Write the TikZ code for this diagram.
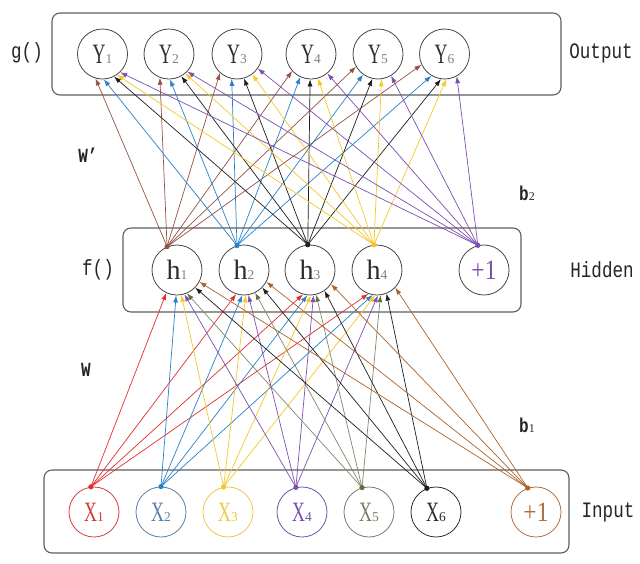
\documentclass[tikz,border=0pt]{standalone}
\usepackage{fontspec}
\setmainfont{Liberation Serif}
\newfontfamily\labfont[FakeStretch=0.8]{Liberation Mono}
\newfontfamily\nfxy[FakeStretch=0.64]{Liberation Serif}
\newfontfamily\nfh{Liberation Serif}
\newfontfamily\nfp[FakeStretch=0.84]{Liberation Serif}
\usetikzlibrary{arrows.meta}
\definecolor{cred}{RGB}{228,45,45}
\definecolor{cblue}{RGB}{40,130,200}
\definecolor{cyel}{RGB}{245,200,40}
\definecolor{cpur}{RGB}{125,80,175}
\definecolor{coli}{RGB}{95,110,65}
\definecolor{colil}{RGB}{130,135,110}
\definecolor{cblk}{RGB}{30,30,30}
\definecolor{cbro}{RGB}{170,100,45}
\definecolor{cbrh}{RGB}{150,80,68}
\definecolor{tred}{RGB}{215,60,60}
\definecolor{tblue}{RGB}{85,130,170}
\definecolor{tyel}{RGB}{240,200,70}
\definecolor{tpur}{RGB}{120,80,170}
\definecolor{toli}{RGB}{120,125,100}
\definecolor{tblk}{RGB}{45,45,45}
\definecolor{tbro}{RGB}{175,110,60}
\definecolor{ring}{RGB}{70,70,70}
\definecolor{boxc}{RGB}{95,95,95}
\begin{document}
\begin{tikzpicture}[x=1pt,y=-1pt,
  boxst/.style={draw=boxc,line width=1.1pt,rounded corners=8pt},
  neuron/.style={circle,draw=#1,line width=0.8pt,minimum size=50pt,inner sep=0pt},
  lab/.style={font=\labfont\fontsize{22}{22}\selectfont,text=black!85,inner sep=0pt},
  blab/.style={lab,font=\labfont\bfseries\fontsize{20}{20}\selectfont},
  wire/.style={line width=0.7pt}]
\useasboundingbox (0,0) rectangle (640,563);
\fill[white] (0,0) rectangle (640,563);
% boxes
\draw[boxst] (52,13) rectangle (561,95);
\draw[boxst] (123,228) rectangle (521,312);
\draw[boxst] (44,470) rectangle (569,553);
% helper for node labels
\newcommand\nlab[4]{{\color{#4}#1\fontsize{28}{28}\selectfont #2{\nfh\fontsize{13.5}{13.5}\selectfont #3}}}
% output nodes
\foreach \n/\x in {1/102.5,2/169,3/237,4/311,5/378,6/444.5}
  \node[neuron=ring] (y\n) at (\x,54) {\nlab{\nfxy}{Y}{\textcolor{gray}{\n}}{tblk}};
% hidden nodes
\foreach \n/\x in {1/177,2/244,3/310,4/377}
  \node[neuron=ring] (h\n) at (\x,270) {\nlab{\nfh}{h}{\textcolor{gray}{\n}}{tblk}};
\node[neuron=ring] (hb) at (484,270) {\nlab{\nfp}{+1}{}{tpur}};
% input nodes
\node[neuron=tred]  (x1) at (94,512)  {\nlab{\nfxy}{X}{1}{tred}};
\node[neuron=tblue] (x2) at (161,512) {\nlab{\nfxy}{X}{2}{tblue}};
\node[neuron=tyel]  (x3) at (228,512) {\nlab{\nfxy}{X}{3}{tyel}};
\node[neuron=tpur]  (x4) at (302,512) {\nlab{\nfxy}{X}{4}{tpur}};
\node[neuron=toli]  (x5) at (369,512) {\nlab{\nfxy}{X}{5}{toli}};
\node[neuron=tblk]  (x6) at (436,512) {\nlab{\nfxy}{X}{6}{tblk}};
\node[neuron=tbro]  (xb) at (536,512) {\nlab{\nfp}{+1}{}{tbro}};
% input -> hidden
\foreach \src/\lc/\hc/\sa/\angs in {
  x1/cred/cred/97/{245,252,254,250},
  x2/cblue/cblue/90/{268,266,264,260},
  x3/cyel/cyel/100/{280,274,272,266},
  x4/cpur/cpur/104/{287,280,278,272},
  x5/colil/coli/106/{293,296,284,278},
  x6/cblk/cblk/111/{316,316,305,292},
  xb/cbro/cbro/109/{332,332,326,316}}{
  \foreach \a [count=\j] in \angs
    \draw[wire,draw=\lc,-{Latex[length=7pt,width=5pt,color=\hc]}] (\src.\sa) -- (h\j.\a);
  \fill[\hc] (\src.\sa) circle (2.6pt);
}
% hidden -> output
\foreach \src/\lc/\hc/\sa/\angs in {
  h1/cbrh/cbrh/113/{254,249,228,222,210,205},
  h2/cblue/cblue/106/{273,272,258,245,234,239},
  h3/cblk/cblk/95/{297,299,286,268,257,262},
  h4/cyel/cyel/97/{305,310,307,286,278,274},
  hb/cpur/cpur/104/{314,316,325,310,301,299}}{
  \foreach \a [count=\j] in \angs
    \draw[wire,draw=\lc,-{Latex[length=7pt,width=5pt,color=\hc]}] (\src.\sa) -- (y\j.\a);
  \fill[\hc] (\src.\sa) circle (2.6pt);
}
% labels
\node[lab] (lg) at (27,53) {g()};
\node[lab] (lout) at (601,53) {Output};
\node[lab] (lf) at (98,270) {f()};
\node[lab] (lhid) at (602,270) {Hidden};
\node[lab] (lin) at (608,512) {Input};
\node[blab] (lw2) at (88,155) {W’};
\node[blab] (lw) at (86,370) {W};
\node[blab] (lb2) at (527,193) {b{\nfh\mdseries\fontsize{12}{12}\selectfont 2}};
\node[blab] (lb1) at (527,425) {b{\nfh\mdseries\fontsize{12}{12}\selectfont 1}};
\end{tikzpicture}
\end{document}
